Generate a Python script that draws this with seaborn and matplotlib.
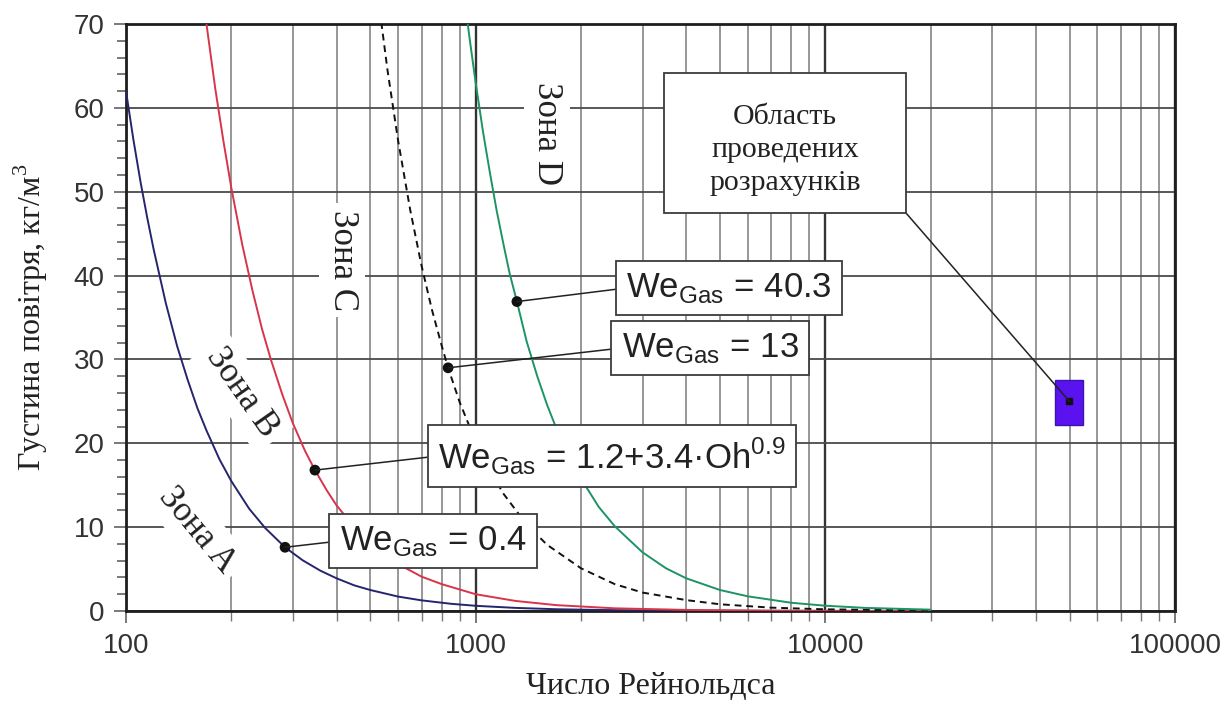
import numpy as np
import pandas as pd
import matplotlib
matplotlib.use("Agg")
import matplotlib.pyplot as plt
import matplotlib.ticker as mticker
from matplotlib.patches import Rectangle
import seaborn as sns

# --- boundary curves: Reynolds number vs gas density ---
re_a = [100, 105, 110, 115, 120, 130, 140, 150, 160, 170, 185, 200, 225, 250, 285, 320,
        360, 400, 450, 500, 600, 700, 850, 1000, 1300, 1700, 2300, 3200, 5000, 9000, 20000]
rho_a = [62.0, 56.2, 51.2, 46.9, 43.1, 36.7, 31.6, 27.6, 24.2, 21.5, 18.1, 15.5, 12.2, 9.9,
         7.6, 6.05, 4.8, 3.9, 3.05, 2.5, 1.72, 1.27, 0.86, 0.62, 0.37, 0.21, 0.12, 0.06,
         0.03, 0.01, 0.0]

re_b = [165, 170, 180, 190, 200, 215, 230, 245, 260, 280, 300, 325, 347, 375, 400, 450,
        500, 600, 700, 800, 1000, 1300, 1700, 2500, 4000, 7000, 20000]
rho_b = [74.2, 69.9, 62.3, 56.0, 50.5, 43.7, 38.2, 33.6, 29.9, 25.8, 22.4, 19.1, 16.8,
         14.4, 12.6, 10.0, 8.1, 5.6, 4.1, 3.2, 2.0, 1.2, 0.7, 0.32, 0.13, 0.04, 0.0]

re_c = [520, 560, 600, 650, 700, 750, 800, 834, 900, 1000, 1100, 1200, 1400, 1600, 2000,
        2500, 3000, 4000, 5000, 7000, 10000, 20000]
rho_c = [74.7, 64.4, 56.1, 47.8, 41.2, 35.9, 31.6, 29.0, 24.9, 20.2, 16.7, 14.0, 10.3,
         7.9, 5.1, 3.2, 2.2, 1.3, 0.8, 0.4, 0.2, 0.05]

re_d = [920, 960, 1000, 1050, 1100, 1150, 1200, 1250, 1312, 1400, 1500, 1600, 1700, 1850,
        2000, 2250, 2500, 3000, 3500, 4000, 5000, 6000, 8000, 10000, 13000, 20000]
rho_d = [74.4, 68.4, 63.0, 57.1, 52.1, 47.6, 43.8, 40.3, 36.9, 32.1, 28.0, 24.6, 21.8,
         18.4, 15.8, 12.4, 10.1, 7.0, 5.1, 3.9, 2.5, 1.75, 0.98, 0.63, 0.37, 0.16]

# highlighted points on each boundary
mark_re = [285, 347, 834, 1312]
mark_rho = [7.6, 16.8, 29.0, 36.9]

# calculation region
region_re = [45500, 54700]
region_rho = [22.2, 27.6]
region_center = (49900, 25.0)

curve_labels = ["We_Gas = 0.4", "We_Gas = 1.2+3.4·Oh^0.9", "We_Gas = 13", "We_Gas = 40.3"]
zone_labels = ["Зона A", "Зона B", "Зона C", "Зона D"]
x_ticks = [100, 1000, 10000, 100000]
x_tick_labels = ["100", "1000", "10000", "100000"]
y_ticks = [0, 10, 20, 30, 40, 50, 60, 70]
x_title = "Число Рейнольдса"
y_title = "Густина повітря, кг/м$^{\\mathregular{3}}$"
region_title = "Область\nпроведених\nрозрахунків"

sns.set_theme(style="white")
plt.rcParams["font.family"] = ["Liberation Sans", "DejaVu Sans"]

frames = []
for name, xs, ys in [("A", re_a, rho_a), ("B", re_b, rho_b), ("C", re_c, rho_c), ("D", re_d, rho_d)]:
    frames.append(pd.DataFrame({"Re": xs, "rho": ys, "curve": name}))
df = pd.concat(frames, ignore_index=True)

fig = plt.figure(figsize=(12.27, 7.04), dpi=100)
W, H = 1227, 704
ax = fig.add_axes([126 / W, 1 - 611 / H, (1175 - 126) / W, (611 - 24) / H])

palette = {"A": "#25256e", "B": "#d8344a", "C": "#111111", "D": "#1c9463"}
for name in ["A", "B", "C", "D"]:
    sub = df[df["curve"] == name]
    sns.lineplot(data=sub, x="Re", y="rho", ax=ax, color=palette[name],
                 linewidth=1.4, sort=False, estimator=None, legend=False,
                 linestyle=(0, (3.5, 2.5)) if name == "C" else "-", zorder=3)

sns.scatterplot(x=mark_re, y=mark_rho, ax=ax, color="#111111", s=60,
                edgecolor="none", zorder=6, legend=False)

ax.add_patch(Rectangle((region_re[0], region_rho[0]), region_re[1] - region_re[0],
                       region_rho[1] - region_rho[0], facecolor="#5a12f0",
                       edgecolor="#3b16a8", linewidth=1.0, zorder=4))
ax.plot([region_center[0]], [region_center[1]], marker="s", markersize=4,
        color="#111111", zorder=5)

ax.set_xscale("log")
ax.set_xlim(100, 100000)
ax.set_ylim(0, 70)
ax.set_xticks(x_ticks)
ax.set_xticklabels(x_tick_labels)
ax.xaxis.set_minor_locator(mticker.LogLocator(base=10, subs=np.arange(2, 10)))
ax.xaxis.set_minor_formatter(mticker.NullFormatter())
ax.set_yticks(y_ticks)
ax.yaxis.set_minor_locator(mticker.MultipleLocator(2))

ax.grid(which="major", axis="y", color="#4a4a4a", linewidth=1.3, zorder=0)
ax.grid(which="minor", axis="x", color="#7a7a7a", linewidth=1.1, zorder=0)
ax.grid(which="major", axis="x", color="#333333", linewidth=1.7, zorder=0)
ax.set_axisbelow(True)

for s in ax.spines.values():
    s.set_visible(True)
    s.set_color("#1e1e1e")
    s.set_linewidth(2.0)

ax.tick_params(axis="both", which="major", direction="out", length=8.5, width=1.1,
               color="#555555", labelsize=20, labelcolor="#333333", pad=7,
               bottom=True, left=True)
ax.tick_params(axis="x", which="minor", direction="out", length=7, width=1.0,
               color="#777777", bottom=True)
ax.tick_params(axis="y", which="minor", direction="out", length=6.5, width=1.1,
               color="#555555", left=True)

serif = ["Liberation Serif", "DejaVu Serif"]
ax.set_xlabel(x_title, fontsize=23, family=serif, color="#222222", labelpad=10)
ax.set_ylabel(y_title, fontsize=23, family=serif, color="#222222", labelpad=17)

# zone names
zone_style = dict(fontsize=25, family=serif, color="#222222", ha="center", va="center",
                  zorder=2, bbox=dict(boxstyle="square,pad=0.2", facecolor="white",
                                      edgecolor="none"))
zone_pos = [(197, 530, -50), (242, 393, -55), (342, 260, -90), (547, 133, -90)]
for lbl, (px, py, rot) in zip(zone_labels, zone_pos):
    ax.annotate(lbl, xy=(px, H - py), xycoords="figure pixels", rotation=rot,
                rotation_mode="anchor", **zone_style)

# formula call-outs
def fmt(lbl):
    head, val = lbl.split(" = ")
    val = val.replace("^0.9", "$^{\\mathregular{0.9}}$")
    return "We$_{\\mathregular{Gas}}$ = " + val

box_pos = [(433, 541), (612, 456), (710, 348), (729, 288)]
for lbl, (px, py), mx, my in zip(curve_labels, box_pos, mark_re, mark_rho):
    ax.annotate(fmt(lbl), xy=(mx, my), xycoords="data",
                xytext=(px, H - py), textcoords="figure pixels",
                fontsize=25, color="#222222", ha="center", va="center", zorder=7,
                bbox=dict(boxstyle="square,pad=0.3", facecolor="white",
                          edgecolor="#3c3c3c", linewidth=1.3),
                arrowprops=dict(arrowstyle="-", color="#222222", linewidth=1.1,
                                relpos=(0, 0.5), shrinkA=0, shrinkB=0))

# call-out for the calculation region: frame, leader line and caption
box_l, box_t, box_r, box_b = 664, 73, 906, 213
ax.annotate("", xy=region_center, xycoords="data",
            xytext=(box_r, H - box_b), textcoords="figure pixels", zorder=6,
            arrowprops=dict(arrowstyle="-", color="#222222", linewidth=1.1,
                            shrinkA=0, shrinkB=0))
frame = Rectangle((box_l / W, 1 - box_b / H), (box_r - box_l) / W, (box_b - box_t) / H,
                  transform=fig.transFigure, facecolor="white", edgecolor="#3c3c3c",
                  linewidth=1.3, zorder=7, clip_on=False)
ax.add_patch(frame)
ax.annotate(region_title, xy=((box_l + box_r) / 2, H - 150),
            xycoords="figure pixels", fontsize=21.5, family=serif, color="#222222",
            ha="center", va="center", linespacing=1.33, zorder=8)

fig.savefig("out.png", dpi=100, facecolor="white")
